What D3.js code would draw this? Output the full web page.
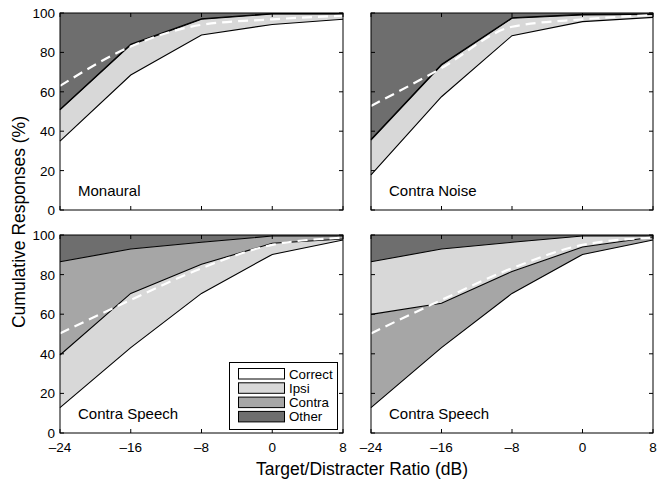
<!DOCTYPE html>
<html><head><meta charset="utf-8">
<script src="https://cdn.jsdelivr.net/npm/d3@7"></script>
<style>body{margin:0;background:#fff}svg{display:block}text{font-family:"Liberation Sans",Arial,Helvetica,sans-serif}</style>
</head><body>
<svg id="c" width="664" height="488"></svg>
<script>
const xTicks = [-24, -16, -8, 0, 8];
const yTicks = [0, 20, 40, 60, 80, 100];
const categories = ["Correct", "Ipsi", "Contra", "Other"];
const colors = {Correct: "#ffffff", Ipsi: "#d8d8d8", Contra: "#a6a6a6", Other: "#6e6e6e"};

// Panel 1: Monaural
const monCorrect = [35, 68.5, 88.8, 94.2, 96.8];
const monIpsi    = [15.8, 15.3, 8, 5.3, 2.7];
const monContra  = [0.3, 0.3, 0.3, 0.2, 0.2];
const monOther   = [48.9, 15.9, 2.9, 0.3, 0.3];
const monFit     = [63, 83, 94, 96.8, 98.6];
// Panel 2: Contra Noise
const cnCorrect = [17.8, 57.5, 88.5, 95.6, 97.8];
const cnIpsi    = [17.7, 16.1, 8.8, 3.4, 1.5];
const cnContra  = [0.3, 0.3, 0.3, 0.3, 0.2];
const cnOther   = [64.2, 26.1, 2.4, 0.7, 0.5];
const cnFit     = [52.8, 72, 93, 96.8, 99];
// Panels 3/4: Contra Speech
const csCorrect = [12.8, 43.1, 70.5, 90.2, 97.5];
const csIpsi    = [26.6, 27.4, 14.7, 5.6, 0.5];
const csContra  = [47.1, 22.4, 11.1, 3.7, 1.5];
const csOther   = [13.5, 7.1, 3.7, 0.5, 0.5];
const csFit     = [50.3, 67.2, 83.2, 95, 98.6];

const panels = [
  {label: "Monaural", data: {Correct: monCorrect, Ipsi: monIpsi, Contra: monContra, Other: monOther}, fit: monFit,
   order: ["Correct", "Ipsi", "Contra", "Other"], x0: 60, x1: 343, y0: 13, y1: 210, yLab: true, xLab: false},
  {label: "Contra Noise", data: {Correct: cnCorrect, Ipsi: cnIpsi, Contra: cnContra, Other: cnOther}, fit: cnFit,
   order: ["Correct", "Ipsi", "Contra", "Other"], x0: 371, x1: 653, y0: 13, y1: 210, yLab: false, xLab: false},
  {label: "Contra Speech", data: {Correct: csCorrect, Ipsi: csIpsi, Contra: csContra, Other: csOther}, fit: csFit,
   order: ["Correct", "Ipsi", "Contra", "Other"], x0: 60, x1: 343, y0: 235, y1: 433, yLab: true, xLab: true, legend: true},
  {label: "Contra Speech", data: {Correct: csCorrect, Ipsi: csIpsi, Contra: csContra, Other: csOther}, fit: csFit,
   order: ["Correct", "Contra", "Ipsi", "Other"], x0: 371, x1: 653, y0: 235, y1: 433, yLab: false, xLab: true}
];

const svg = d3.select("#c");
const fmt = d => d < 0 ? "\u2013" + Math.abs(d) : String(d);

panels.forEach(p => {
  const x = d3.scaleLinear().domain([-24, 8]).range([p.x0, p.x1]);
  const y = d3.scaleLinear().domain([0, 100]).range([p.y1, p.y0]);
  const rows = xTicks.map((t, i) => {
    const r = {x: t};
    categories.forEach(c => r[c] = p.data[c][i]);
    return r;
  });
  const series = d3.stack().keys(p.order)(rows);
  const g = svg.append("g");
  const area = d3.area().x(d => x(d.data.x)).y0(d => y(d[0])).y1(d => y(Math.min(100, d[1])));
  g.selectAll("path.a").data(series).join("path")
    .attr("d", area).attr("fill", s => colors[s.key]).attr("stroke", "none");
  const line = d3.line().x(d => x(d.data.x)).y(d => y(d[1]));
  g.selectAll("path.b").data(series.slice(0, 3)).join("path")
    .attr("d", line).attr("fill", "none").attr("stroke", "#000").attr("stroke-width", 1.1);
  const fitLine = d3.line().x((d, i) => x(xTicks[i])).y(d => y(d)).curve(d3.curveMonotoneX);
  g.append("path").attr("d", fitLine(p.fit)).attr("fill", "none")
    .attr("stroke", "#fff").attr("stroke-width", 2.2).attr("stroke-dasharray", "10,6");
  // frame
  g.append("rect").attr("x", p.x0).attr("y", p.y0).attr("width", p.x1 - p.x0).attr("height", p.y1 - p.y0)
    .attr("fill", "none").attr("stroke", "#000").attr("stroke-width", 1);
  const tl = 4;
  xTicks.forEach(t => {
    g.append("line").attr("x1", x(t)).attr("x2", x(t)).attr("y1", p.y1).attr("y2", p.y1 - tl).attr("stroke", "#000");
    g.append("line").attr("x1", x(t)).attr("x2", x(t)).attr("y1", p.y0).attr("y2", p.y0 + tl).attr("stroke", "#000");
    if (p.xLab) g.append("text").attr("x", x(t)).attr("y", p.y1 + 18.5).attr("text-anchor", "middle")
      .attr("font-size", 13.5).text(fmt(t));
  });
  yTicks.forEach(t => {
    g.append("line").attr("x1", p.x0).attr("x2", p.x0 + tl).attr("y1", y(t)).attr("y2", y(t)).attr("stroke", "#000");
    g.append("line").attr("x1", p.x1).attr("x2", p.x1 - tl).attr("y1", y(t)).attr("y2", y(t)).attr("stroke", "#000");
    if (p.yLab) g.append("text").attr("x", p.x0 - 5).attr("y", y(t) + 5).attr("text-anchor", "end")
      .attr("font-size", 13.5).text(t);
  });
  g.append("text").attr("x", p.x0 + 18).attr("y", p.y1 - 14).attr("font-size", 15).text(p.label);
  if (p.legend) {
    const lg = g.append("g");
    lg.append("rect").attr("x", 229.5).attr("y", 362.5).attr("width", 108).attr("height", 67)
      .attr("fill", "#fff").attr("stroke", "#000").attr("stroke-width", 1);
    categories.forEach((c, i) => {
      const yy = 368.5 + i * 14.3;
      lg.append("rect").attr("x", 238.5).attr("y", yy).attr("width", 46).attr("height", 10.5)
        .attr("fill", colors[c]).attr("stroke", "#000").attr("stroke-width", 1);
      lg.append("text").attr("x", 289).attr("y", yy + 10).attr("font-size", 13.3).text(c);
    });
  }
});

svg.append("text").attr("x", 362).attr("y", 475).attr("text-anchor", "middle").attr("font-size", 17.5)
  .text("Target/Distracter Ratio (dB)");
svg.append("text").attr("transform", "translate(25,222) rotate(-90)").attr("text-anchor", "middle")
  .attr("font-size", 17.5).text("Cumulative Responses (%)");
</script>
</body></html>
